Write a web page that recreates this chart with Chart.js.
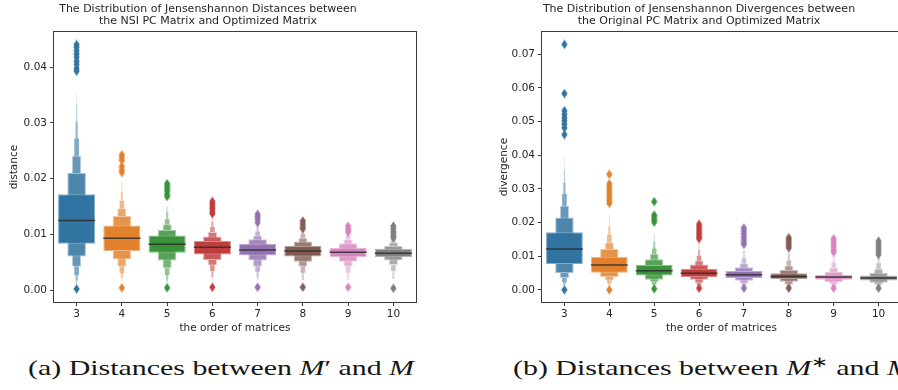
<!DOCTYPE html>
<html>
<head>
<meta charset="utf-8">
<script src="https://cdn.jsdelivr.net/npm/chart.js@4"></script>
<style>
  html, body { margin: 0; padding: 0; background: #fff; }
  body { width: 898px; height: 390px; overflow: hidden; position: relative; }
  .panel { position: absolute; top: 0; }
  .caption { position: absolute; top: 355px; display: inline-block; font-family: "Liberation Serif", serif;
             font-size: 22px; line-height: 26px; color: #151515; white-space: nowrap; transform-origin: left top; }
  .caption sup { font-size: 15px; line-height: 0; }
</style>
</head>
<body>
<canvas id="distChart" class="panel" width="470" height="340" style="left:0"></canvas>
<canvas id="divChart" class="panel" width="449" height="340" style="left:497px"></canvas>
<div class="caption" id="capA" style="left:28px">(a) Distances between <i>M</i>′ and <i>M</i></div>
<div class="caption" id="capB" style="left:513px">(b) Distances between <i>M</i><sup>∗</sup> and <i>M</i></div>
<script>
const orders = ['3', '4', '5', '6', '7', '8', '9', '10'];
const palette = ['#3274a1', '#e1812c', '#3a923a', '#c03d3e', '#9372b2', '#845b53', '#d684bd', '#7f7f7f'];

// (a) Jensen-Shannon distances, NSI PC vs optimized
const distTicks = [0, 0.01, 0.02, 0.03, 0.04];
const distMedian = [0.0125, 0.0093, 0.0082, 0.0077, 0.0072, 0.0070, 0.0068, 0.0066];
const distLow = [
  [0.0083, 0.0070, 0.0067, 0.0064, 0.0062, 0.0060, 0.0059, 0.0059],
  [0.0060, 0.0055, 0.0053, 0.0054, 0.0053, 0.0051, 0.0051, 0.0053],
  [0.0042, 0.0042, 0.0039, 0.0044, 0.0042, 0.0042, 0.0042, 0.0045],
  [0.0027, 0.0030, 0.0027, 0.0034, 0.0033, 0.0031, 0.0031, 0.0034],
  [0.0017, 0.0021, 0.0017, 0.0024, 0.0023, 0.0018, 0.0018, 0.0020],
  [0.0011, 0.0013, 0.0010, 0.0016, 0.0016, null, null, null],
  [0.0007, null, null, null, null, null, null, null]
];
const distHigh = [
  [0.0172, 0.0116, 0.0098, 0.0088, 0.0083, 0.0079, 0.0076, 0.0074],
  [0.0210, 0.0133, 0.0108, 0.0096, 0.0091, 0.0087, 0.0084, 0.0079],
  [0.0241, 0.0147, 0.0118, 0.0104, 0.0098, 0.0094, 0.0091, 0.0086],
  [0.0272, 0.0160, 0.0127, 0.0113, 0.0105, 0.0101, 0.0099, 0.0093],
  [0.0302, 0.0177, 0.0141, 0.0123, 0.0113, 0.0108, 0.0104, 0.0100],
  [0.0332, 0.0193, 0.0151, 0.0129, 0.0117, null, null, null],
  [0.0353, null, null, null, null, null, null, null]
];
const distOutliers = [
  [0.0441, 0.0436, 0.0430, 0.0424, 0.0418, 0.0411, 0.0405, 0.0398, 0.0393, 0.0002],
  [0.0243, 0.0238, 0.0233, 0.0222, 0.0216, 0.0211, 0.0004],
  [0.0191, 0.0187, 0.0182, 0.0178, 0.0172, 0.0168, 0.0004],
  [0.0159, 0.0155, 0.0150, 0.0146, 0.0141, 0.0137, 0.0005],
  [0.0136, 0.0132, 0.0127, 0.0121, 0.0005],
  [0.0124, 0.0119, 0.0114, 0.0110, 0.0005],
  [0.0115, 0.0111, 0.0107, 0.0104, 0.0005],
  [0.0115, 0.0110, 0.0105, 0.0101, 0.0097, 0.0094, 0.0003]
];

// (b) Jensen-Shannon divergences, original PC vs optimized
const divTicks = [0, 0.01, 0.02, 0.03, 0.04, 0.05, 0.06, 0.07];
const divMedian = [0.0121, 0.0074, 0.0057, 0.0049, 0.0045, 0.0040, 0.0038, 0.0035];
const divLow = [
  [0.0077, 0.0051, 0.0043, 0.0038, 0.0035, 0.0032, 0.0030, 0.0028],
  [0.0050, 0.0038, 0.0030, 0.0030, 0.0027, 0.0024, 0.0023, 0.0021],
  [0.0035, 0.0028, 0.0023, 0.0020, 0.0018, 0.0015, 0.0016, 0.0015],
  [0.0023, 0.0020, 0.0016, 0.0013, 0.0012, 0.0011, 0.0011, 0.0010],
  [0.0015, 0.0012, 0.0011, 0.0009, 0.0008, 0.0007, 0.0007, 0.0007],
  [0.0009, 0.0008, 0.0007, 0.0006, null, null, null, null],
  [0.0006, null, null, null, null, null, null, null]
];
const divHigh = [
  [0.0171, 0.0098, 0.0074, 0.0063, 0.0056, 0.0049, 0.0045, 0.0043],
  [0.0215, 0.0121, 0.0091, 0.0075, 0.0067, 0.0059, 0.0054, 0.0051],
  [0.0250, 0.0141, 0.0107, 0.0087, 0.0079, 0.0072, 0.0066, 0.0063],
  [0.0285, 0.0163, 0.0123, 0.0101, 0.0094, 0.0087, 0.0081, 0.0079],
  [0.0318, 0.0188, 0.0143, 0.0119, 0.0116, 0.0109, 0.0101, 0.0097],
  [0.0356, 0.0222, 0.0166, 0.0139, null, null, null, null],
  [0.0395, null, null, null, null, null, null, null]
];
const divOutliers = [
  [0.0729, 0.0583, 0.0532, 0.0521, 0.0511, 0.0502, 0.0492, 0.0481, 0.0461, 0.0000],
  [0.0343, 0.0315, 0.0306, 0.0297, 0.0289, 0.0281, 0.0273, 0.0265, 0.0257, 0.0000],
  [0.0262, 0.0222, 0.0215, 0.0208, 0.0201, 0.0003],
  [0.0195, 0.0188, 0.0180, 0.0172, 0.0165, 0.0158, 0.0152, 0.0005],
  [0.0184, 0.0175, 0.0166, 0.0157, 0.0149, 0.0141, 0.0135, 0.0005],
  [0.0155, 0.0148, 0.0140, 0.0132, 0.0125, 0.0005],
  [0.0152, 0.0143, 0.0135, 0.0127, 0.0119, 0.0112, 0.0005],
  [0.0145, 0.0137, 0.0129, 0.0121, 0.0113, 0.0105, 0.0005]
];

const FONT = 'DejaVu Sans';
const TEXT = '#262626';
const AXIS = '#3a3a3a';

// lighten a hex colour toward white
function mix(hex, t) {
  const n = parseInt(hex.slice(1), 16);
  const m = c => Math.round(c + (255 - c) * t);
  return `rgb(${m((n >> 16) & 255)},${m((n >> 8) & 255)},${m(n & 255)})`;
}

// thin diamond marker like matplotlib's 'd'
function diamond(color) {
  const c = document.createElement('canvas');
  c.width = 7; c.height = 10;
  const ctx = c.getContext('2d');
  ctx.fillStyle = color;
  ctx.beginPath();
  ctx.moveTo(3.5, 0.3); ctx.lineTo(6.6, 5); ctx.lineTo(3.5, 9.7); ctx.lineTo(0.4, 5);
  ctx.closePath();
  ctx.fill();
  return c;
}
const markers = palette.map(diamond);

// median line across the widest box
const medianPlugin = {
  id: 'medians',
  afterDatasetsDraw(chart, args, opts) {
    const ctx = chart.ctx;
    const y = chart.scales.y;
    const meta = chart.getDatasetMeta(0);
    ctx.save();
    ctx.strokeStyle = 'rgba(45,45,45,0.85)';
    ctx.lineWidth = 1.5;
    meta.data.forEach((bar, i) => {
      const py = y.getPixelForValue(opts.values[i]);
      ctx.beginPath();
      ctx.moveTo(bar.x - bar.width / 2, py);
      ctx.lineTo(bar.x + bar.width / 2, py);
      ctx.stroke();
    });
    ctx.restore();
  }
};

// four-sided axes frame
const framePlugin = {
  id: 'frame',
  afterDraw(chart) {
    const { ctx, chartArea: a } = chart;
    ctx.save();
    ctx.strokeStyle = AXIS;
    ctx.lineWidth = 1;
    ctx.strokeRect(Math.round(a.left) - 0.5, Math.round(a.top) - 0.5,
      Math.round(a.right - a.left) + 1, Math.round(a.bottom - a.top) + 1);
    ctx.restore();
  }
};

function makeBoxen(id, opt) {
  const levelCount = orders.map((_, i) => opt.low.filter(l => l[i] != null).length);
  const boxSets = opt.low.map((lo, k) => ({
    type: 'bar',
    data: lo.map((v, i) => v == null ? null : [v, opt.high[k][i]]),
    backgroundColor: lo.map((v, i) => mix(palette[i], k / levelCount[i] * 0.9)),
    borderColor: lo.map((v, i) => mix(palette[i], Math.min(0.95, k / levelCount[i] * 0.9 + 0.4))),
    borderWidth: k < 3 ? 1 : 0,
    borderSkipped: false,
    barPercentage: 0.82 / Math.pow(2, k),
    categoryPercentage: 1,
    grouped: false,
    order: k + 1
  }));
  const pts = [], styles = [];
  opt.outliers.forEach((vals, i) => vals.forEach(v => {
    pts.push({ x: orders[i], y: v });
    styles.push(markers[i]);
  }));
  const outlierSet = {
    type: 'line',
    data: pts,
    showLine: false,
    pointStyle: styles,
    pointRadius: 4,
    order: 0
  };

  new Chart(document.getElementById(id), {
    type: 'bar',
    data: { labels: orders, datasets: [...boxSets, outlierSet] },
    options: {
      responsive: false,
      animation: false,
      events: [],
      layout: { padding: { left: 0, right: opt.padRight, top: 0, bottom: 0 } },
      plugins: {
        legend: { display: false },
        tooltip: { enabled: false },
        title: {
          display: true, text: opt.title, color: TEXT,
          font: { family: FONT, size: 11, weight: 'normal', lineHeight: 1.1 },
          padding: { top: 3, bottom: 5 }
        },
        medians: { values: opt.median }
      },
      scales: {
        x: {
          type: 'category', offset: true,
          grid: { display: true, drawOnChartArea: false, offset: false, tickLength: 4, tickColor: AXIS },
          border: { display: false },
          ticks: { color: TEXT, font: { family: FONT, size: 10.5 }, padding: 2, maxRotation: 0 },
          title: { display: true, text: 'the order of matrices', color: TEXT,
                   font: { family: FONT, size: 10.5 }, padding: { top: 0, bottom: 5 } },
          afterFit: s => { s.height = 38; }
        },
        y: {
          min: opt.min, max: opt.max,
          afterBuildTicks: s => { s.ticks = opt.ticks.map(v => ({ value: v })); },
          grid: { display: true, drawOnChartArea: false, tickLength: 4, tickColor: AXIS },
          border: { display: false },
          ticks: { color: TEXT, font: { family: FONT, size: 10.5 }, padding: 3,
                   callback: v => Number(v).toFixed(2) },
          title: { display: true, text: opt.yTitle, color: TEXT,
                   font: { family: FONT, size: 10.5 }, padding: { top: opt.titlePad, bottom: 0 } },
          afterFit: s => { s.width = opt.axisWidth; }
        }
      }
    },
    plugins: [medianPlugin, framePlugin]
  });
}

makeBoxen('distChart', {
  title: ['The Distribution of Jensenshannon Distances between', 'the NSI PC Matrix and Optimized Matrix'],
  yTitle: 'distance',
  low: distLow, high: distHigh, median: distMedian, outliers: distOutliers, ticks: distTicks,
  min: -0.00215, max: 0.0463,
  axisWidth: 54, padRight: 54, titlePad: 8
});

makeBoxen('divChart', {
  title: ['The Distribution of Jensenshannon Divergences between', 'the Original PC Matrix and Optimized Matrix'],
  yTitle: 'divergence',
  low: divLow, high: divHigh, median: divMedian, outliers: divOutliers, ticks: divTicks,
  min: -0.0036, max: 0.0765,
  axisWidth: 45, padRight: 45, titlePad: 1
});

// stretch the serif captions to the width of the LaTeX originals
const capA = document.getElementById('capA');
const capB = document.getElementById('capB');
const sx = 386 / capA.getBoundingClientRect().width;
capA.style.transform = `scaleX(${sx})`;
capB.style.transform = `scaleX(${sx})`;
</script>
</body>
</html>
